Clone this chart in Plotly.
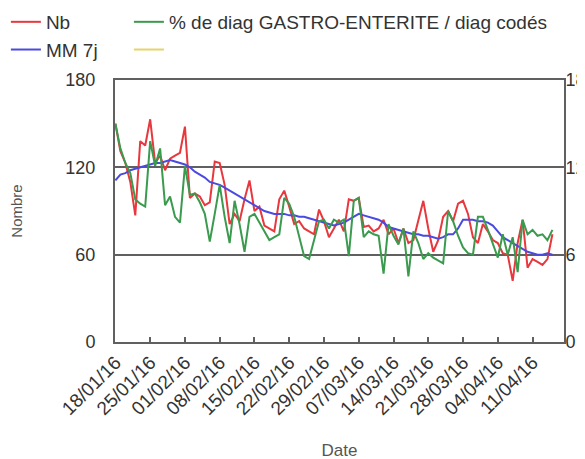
import pandas as pd
import plotly.graph_objects as go

start = "2016-01-18"
dates = pd.date_range(start, periods=89, freq="D").strftime("%Y-%m-%d").tolist()

nb = [150, 131, 123, 110, 87, 138, 135, 153, 123, 128,
      118, 126, 128, 130, 148, 99, 102, 100, 94, 96,
      124, 123, 108, 81, 88, 83, 98, 111, 90, 93,
      80, 78, 76, 98, 104, 93, 81, 83, 78, 76,
      74, 91, 83, 72, 78, 84, 76, 98, 97, 99,
      79, 80, 76, 78, 84, 74, 78, 68, 78, 68,
      70, 83, 97, 78, 62, 70, 86, 90, 83, 95,
      97, 88, 72, 68, 81, 76, 70, 68, 61, 60,
      42, 68, 84, 51, 57, 55, 53, 57, 74]

mm7 = [111, 115, 116, 118, 119, 120, 121, 122, 123, 123,
       124, 125, 124, 123, 122, 120, 117, 115, 113, 110,
       109, 108, 106, 104, 102, 100, 98, 96, 94, 92,
       90, 89, 88, 88, 88, 87, 87, 86, 86, 85,
       84, 83, 82, 81, 80, 81, 82, 84, 86, 88,
       87, 86, 85, 84, 82, 79, 78, 77, 76, 75,
       74, 74, 73, 73, 72, 71, 72, 74, 74, 78,
       84, 84, 84, 83, 83, 82, 80, 76, 72, 70,
       68, 66, 64, 62, 61, 60, 60, 61, 60]

pct = [15.0, 13.3, 12.3, 11.6, 9.8, 9.5, 9.3, 13.8, 12.1, 13.3,
       9.4, 10.0, 8.6, 8.2, 12.1, 10.1, 10.2, 9.6, 8.8, 6.9,
       8.8, 10.8, 8.6, 6.8, 9.7, 8.1, 6.2, 8.6, 8.8, 8.2,
       7.6, 7.0, 7.2, 7.4, 9.9, 9.5, 8.6, 7.3, 5.9, 5.7,
       7.0, 8.3, 8.4, 7.8, 8.4, 8.2, 8.4, 5.9, 9.7, 9.9,
       7.2, 7.6, 7.4, 7.3, 4.7, 8.1, 7.3, 6.7, 7.8, 4.5,
       7.6, 6.8, 5.7, 6.1, 5.8, 5.6, 5.4, 9.0, 8.3, 7.3,
       6.5, 6.1, 6.0, 8.6, 8.6, 7.7, 6.8, 5.8, 7.4, 6.0,
       7.2, 4.8, 8.4, 7.4, 7.7, 7.3, 7.4, 7.0, 7.7]

week_ticks = pd.date_range(start, "2016-04-11", freq="7D").strftime("%Y-%m-%d").tolist()

font = "Liberation Sans"
grey = "#606060"

fig = go.Figure()

fig.add_trace(go.Scatter(x=dates, y=nb, mode="lines", name="Nb",
                         line=dict(color="#e8383d", width=2), legend="legend"))
fig.add_trace(go.Scatter(x=dates, y=pct, mode="lines", yaxis="y2",
                         name="% de diag GASTRO-ENTERITE / diag codés",
                         line=dict(color="#3a9a4e", width=2), legend="legend2"))
fig.add_trace(go.Scatter(x=dates, y=mm7, mode="lines", name="MM 7j",
                         line=dict(color="#4a4ae0", width=2), legend="legend"))
# empty yellow series: only its legend entry is visible
fig.add_trace(go.Scatter(x=dates[:1], y=[-10], mode="lines", name=" ", yaxis="y2",
                         line=dict(color="#e6d36a", width=2), legend="legend2"))

fig.update_layout(
    width=585, height=459,
    margin=dict(l=107, r=29, t=72, b=125, autoexpand=False),
    paper_bgcolor="white", plot_bgcolor="white",
    font=dict(family=font, size=15, color="#333333"),
    legend=dict(x=-0.243, y=1.294, xanchor="left", yanchor="top",
                font=dict(size=19), bgcolor="rgba(0,0,0,0)"),
    legend2=dict(x=0.031, y=1.294, xanchor="left", yanchor="top",
                 font=dict(size=19), bgcolor="rgba(0,0,0,0)"),
    xaxis=dict(
        type="date",
        range=["2016-01-17 22:00", "2016-04-17 08:00"],
        tickvals=week_ticks, tickformat="%d/%m/%y", tickangle=-45,
        ticks="inside", ticklen=5, tickcolor=grey, tickwidth=2,
        showgrid=False, showline=True, linecolor=grey, linewidth=2,
        mirror=True, zeroline=False, automargin=False,
        tickfont=dict(size=19),
        title=dict(text="Date", standoff=26, font=dict(size=17, color="#555555")),
    ),
    yaxis=dict(
        range=[0, 180], tickvals=[0, 60, 120, 180],
        showgrid=True, gridcolor=grey, gridwidth=2,
        showline=True, linecolor=grey, linewidth=2, zeroline=False,
        automargin=False, tickfont=dict(size=18), ticklabelstandoff=14,
        title=dict(text="Nombre", font=dict(size=15, color="#555555"), standoff=50),
    ),
    yaxis2=dict(
        range=[0, 18], tickvals=[0, 6, 12, 18], overlaying="y", side="right",
        showgrid=False, showline=True, linecolor=grey, linewidth=2,
        zeroline=False, automargin=False, tickfont=dict(size=18),
        ticklabelstandoff=-4,
    ),
)

fig.write_html("out.html")
